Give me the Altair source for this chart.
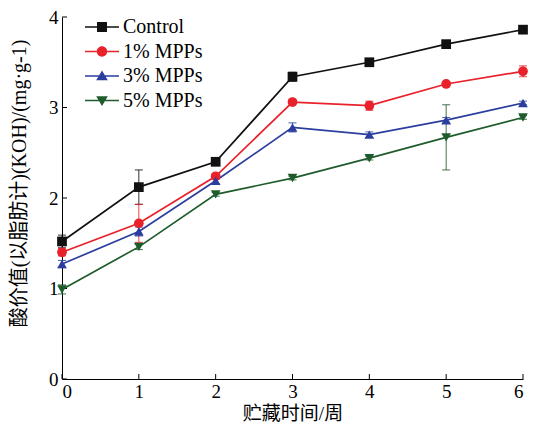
import altair as alt
import pandas as pd

weeks = [0, 1, 2, 3, 4, 5, 6]
series_names = ["Control", "1% MPPs", "3% MPPs", "5% MPPs"]
control = [1.52, 2.12, 2.40, 3.34, 3.50, 3.70, 3.86]
mpp1 = [1.40, 1.72, 2.24, 3.06, 3.02, 3.26, 3.40]
mpp3 = [1.27, 1.63, 2.19, 2.78, 2.70, 2.86, 3.05]
mpp5 = [0.99, 1.46, 2.04, 2.22, 2.44, 2.67, 2.89]
control_err = [0.07, 0.19, 0.03, 0.05, 0.04, 0.02, 0.02]
mpp1_err = [0.04, 0.21, 0.03, 0.02, 0.05, 0.02, 0.06]
mpp3_err = [0.04, 0.05, 0.03, 0.05, 0.03, 0.03, 0.02]
mpp5_err = [0.05, 0.03, 0.02, 0.02, 0.02, 0.36, 0.02]
x_ticks = [0, 1, 2, 3, 4, 5, 6]
y_ticks = [0, 1, 2, 3, 4]

colors = ["#111111", "#e8212b", "#2b3e9e", "#1f5c2c"]
plot_shapes = ["square", "circle", "triangle-up", "triangle-down"]
legend_shapes = [
    "M-1.7,-0.075H1.7V0.075H-1.7Z M-0.5,-0.5H0.5V0.5H-0.5Z",
    "M-1.7,-0.075H1.7V0.075H-1.7Z M-0.52,0A0.52,0.52 0 1,1 0.52,0A0.52,0.52 0 1,1 -0.52,0Z",
    "M-1.7,-0.075H1.7V0.075H-1.7Z M0,-0.55L0.58,0.42L-0.58,0.42Z",
    "M-1.7,-0.075H1.7V0.075H-1.7Z M-0.58,-0.42L0.58,-0.42L0,0.55Z",
]

rows = []
for name, vals, errs in zip(series_names, [control, mpp1, mpp3, mpp5],
                            [control_err, mpp1_err, mpp3_err, mpp5_err]):
    for w, v, e in zip(weeks, vals, errs):
        rows.append({"series": name, "week": w, "value": v, "lo": v - e, "hi": v + e})
df = pd.DataFrame(rows)

FONT = "Liberation Serif, Noto Sans CJK SC"

x_scale = alt.Scale(domain=[0, 6], nice=False, zero=False)
y_scale = alt.Scale(domain=[0, 4], nice=False)

x_enc = alt.X("week:Q", scale=x_scale,
              axis=alt.Axis(values=x_ticks, format="d", title="贮藏时间/周",
                            labelPadding=3, titlePadding=3, titleFontSize=19))
y_enc = alt.Y("value:Q", scale=y_scale,
              axis=alt.Axis(values=y_ticks, format="d",
                            title="酸价值(以脂肪计)(KOH)/(mg·g-1)",
                            labelPadding=4, titleX=-43, titleY=166,
                            titleAngle=270, titleBaseline="middle",
                            titleAlign="center", titleFontSize=20))

def col(legend=None):
    return alt.Color("series:N", scale=alt.Scale(domain=series_names, range=colors),
                     legend=legend)

base = alt.Chart(df)

err_rule = base.mark_rule(strokeWidth=1, opacity=0.85).encode(
    x=x_enc, y=alt.Y("lo:Q", scale=y_scale), y2="hi:Q", color=col())
cap_lo = base.mark_tick(orient="horizontal", size=8, thickness=1, opacity=0.85).encode(
    x=x_enc, y=alt.Y("lo:Q", scale=y_scale), color=col())
cap_hi = base.mark_tick(orient="horizontal", size=8, thickness=1, opacity=0.85).encode(
    x=x_enc, y=alt.Y("hi:Q", scale=y_scale), color=col())

lines = base.mark_line(strokeWidth=1.7).encode(
    x=x_enc, y=y_enc, color=col(), detail="series:N",
    order="week:Q")
points = base.mark_point(filled=True, size=95, opacity=1).encode(
    x=x_enc, y=y_enc, color=col(),
    shape=alt.Shape("series:N", scale=alt.Scale(domain=series_names, range=plot_shapes),
                    legend=None))

leg = alt.Legend(title=None, orient="none", legendX=30, legendY=0,
                 labelFont=FONT, labelFontSize=20, labelColor="black",
                 symbolSize=400, symbolStrokeWidth=0, labelOffset=11,
                 rowPadding=4.5, padding=0)
legend_layer = alt.Chart(pd.DataFrame({"series": series_names})).transform_filter(
    "false").mark_point(filled=True, opacity=1).encode(
    color=alt.Color("series:N", scale=alt.Scale(domain=series_names, range=colors),
                    legend=leg),
    shape=alt.Shape("series:N", scale=alt.Scale(domain=series_names, range=legend_shapes),
                    legend=leg))

ytick_df = pd.DataFrame({"value": y_ticks})
xtick_df = pd.DataFrame({"week": x_ticks})
yticks = alt.Chart(ytick_df).mark_rule(color="black", strokeWidth=1).encode(
    y=y_enc, x=alt.value(0), x2=alt.value(5))
xticks = alt.Chart(xtick_df).mark_rule(color="black", strokeWidth=1).encode(
    x=x_enc, y=alt.value(362), y2=alt.value(357))

chart = alt.layer(
    yticks, xticks, err_rule, cap_lo, cap_hi, lines, points, legend_layer
).resolve_scale(
    color="independent", shape="independent"
).properties(
    width=461, height=362,
    padding={"left": 0, "top": 0, "right": 0, "bottom": 0}
).configure_view(stroke=None).configure_axis(
    domainColor="black", domainWidth=1, ticks=False, grid=False,
    labelFont=FONT, labelFontSize=19, labelColor="black",
    titleFont=FONT, titleFontSize=18, titleFontWeight="normal", titleColor="black"
)

chart.save("out.html", embed_options={"renderer": "svg", "actions": False})
